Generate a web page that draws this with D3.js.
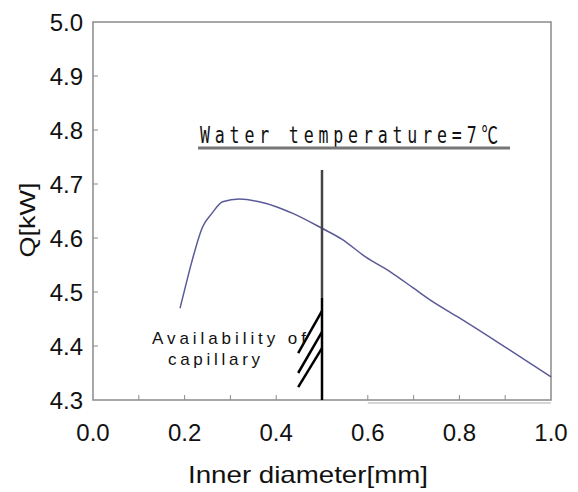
<!DOCTYPE html>
<html>
<head>
<meta charset="utf-8">
<script src="https://cdn.jsdelivr.net/npm/d3@7"></script>
<style>
  body { margin: 0; background: #fff; }
  text { font-family: "Liberation Sans", Arial, sans-serif; fill: #111; }
</style>
</head>
<body>
<svg width="578" height="492"></svg>
<script>
// inner diameter [mm] vs heat capacity Q [kW]
var diameter = [0.19, 0.20, 0.217, 0.239, 0.26, 0.283, 0.32, 0.363, 0.40, 0.435, 0.50, 0.543, 0.595, 0.65, 0.70, 0.74, 0.80, 0.90, 1.00];
var capacity = [4.47, 4.504, 4.56, 4.62, 4.646, 4.667, 4.672, 4.667, 4.658, 4.646, 4.618, 4.598, 4.565, 4.537, 4.507, 4.483, 4.452, 4.398, 4.343];

var xTicks = [0.0, 0.2, 0.4, 0.6, 0.8, 1.0];
var xMinorTicks = [0.1, 0.2, 0.3, 0.4, 0.5, 0.6, 0.7, 0.8, 0.9];
var yTicks = [4.3, 4.4, 4.5, 4.6, 4.7, 4.8, 4.9, 5.0];

// limit line for capillary tubes
var limitX = 0.5;
var limitTop = 4.726, limitSplit = 4.489;
// hatching under the limit
var hatchLeft = 0.448;
var hatchTop = [4.465, 4.426, 4.396];
var hatchBottom = [4.387, 4.35, 4.324];

var x = d3.scaleLinear().domain([0, 1]).range([93, 551]);
var y = d3.scaleLinear().domain([4.3, 5.0]).range([400, 22]);

var svg = d3.select('svg');

// frame
svg.append('rect')
    .attr('x', x(0)).attr('y', y(5.0))
    .attr('width', x(1) - x(0)).attr('height', y(4.3) - y(5.0))
    .attr('fill', 'none').attr('stroke', '#8a8a8a').attr('stroke-width', 1.5);

// faint double line under the right part of the x axis
svg.append('line')
    .attr('x1', x(0.6)).attr('x2', x(1)).attr('y1', y(4.3) + 3).attr('y2', y(4.3) + 3)
    .attr('stroke', '#c8c8c8').attr('stroke-width', 1.5);

// ticks pointing inwards
svg.selectAll('.xtick').data(xMinorTicks).enter().append('line')
    .attr('x1', d => x(d)).attr('x2', d => x(d))
    .attr('y1', y(4.3)).attr('y2', y(4.3) - 5)
    .attr('stroke', '#8a8a8a').attr('stroke-width', 1);
svg.selectAll('.ytick').data(yTicks.slice(1, -1)).enter().append('line')
    .attr('x1', x(0)).attr('x2', x(0) + 5)
    .attr('y1', d => y(d)).attr('y2', d => y(d))
    .attr('stroke', '#8a8a8a').attr('stroke-width', 1);

// tick labels
svg.selectAll('.xlab').data(xTicks).enter().append('text')
    .attr('x', d => x(d)).attr('y', 441)
    .attr('text-anchor', 'middle').attr('font-size', 24)
    .text(d => d.toFixed(1));
svg.selectAll('.ylab').data(yTicks).enter().append('text')
    .attr('x', 83).attr('y', d => y(d) + 9)
    .attr('text-anchor', 'end').attr('font-size', 24)
    .text(d => d.toFixed(1));

// axis titles
svg.append('text')
    .attr('x', 188).attr('y', 483)
    .attr('font-size', 24)
    .attr('textLength', 240).attr('lengthAdjust', 'spacingAndGlyphs')
    .text('Inner diameter[mm]');
svg.append('text')
    .attr('transform', 'translate(35,220) rotate(-90)')
    .attr('text-anchor', 'middle').attr('font-size', 22)
    .attr('textLength', 75).attr('lengthAdjust', 'spacingAndGlyphs')
    .text('Q[kW]');

// curve
var line = d3.line()
    .x(d => x(d[0])).y(d => y(d[1]))
    .curve(d3.curveMonotoneX);
svg.append('path')
    .datum(diameter.map((d, i) => [d, capacity[i]]))
    .attr('d', line)
    .attr('fill', 'none').attr('stroke', '#5a5a98').attr('stroke-width', 1.5);

// limit line
svg.append('line')
    .attr('x1', x(limitX)).attr('x2', x(limitX))
    .attr('y1', y(limitTop)).attr('y2', y(limitSplit))
    .attr('stroke', '#444').attr('stroke-width', 2.5);
svg.append('line')
    .attr('x1', x(limitX)).attr('x2', x(limitX))
    .attr('y1', y(limitSplit)).attr('y2', y(4.3))
    .attr('stroke', '#000').attr('stroke-width', 2.5);

svg.selectAll('.hatch').data(hatchTop).enter().append('line')
    .attr('x1', x(hatchLeft)).attr('y1', (d, i) => y(hatchBottom[i]))
    .attr('x2', x(limitX)).attr('y2', d => y(d))
    .attr('stroke', '#000').attr('stroke-width', 2.5);

// annotations
svg.append('text')
    .attr('x', 152).attr('y', 344)
    .attr('font-size', 17).attr('fill', '#222')
    .attr('textLength', 154).attr('lengthAdjust', 'spacing')
    .text('Availability of');
svg.append('text')
    .attr('x', 168).attr('y', 365)
    .attr('font-size', 17).attr('fill', '#222')
    .attr('textLength', 92).attr('lengthAdjust', 'spacing')
    .text('capillary');

// condensed monospace label, like the original
svg.append('g')
    .attr('transform', 'translate(200,143) scale(0.72,1)')
  .append('text')
    .attr('x', 0).attr('y', 0)
    .style('font-family', '"DejaVu Sans Mono", "Noto Sans CJK JP", monospace')
    .style('font-size', '23px')
    .attr('textLength', 298 / 0.72).attr('lengthAdjust', 'spacing')
    .text('Water temperature=7℃');
svg.append('line')
    .attr('x1', 198).attr('x2', 510).attr('y1', 148).attr('y2', 148)
    .attr('stroke', '#777').attr('stroke-width', 3);
</script>
</body>
</html>
